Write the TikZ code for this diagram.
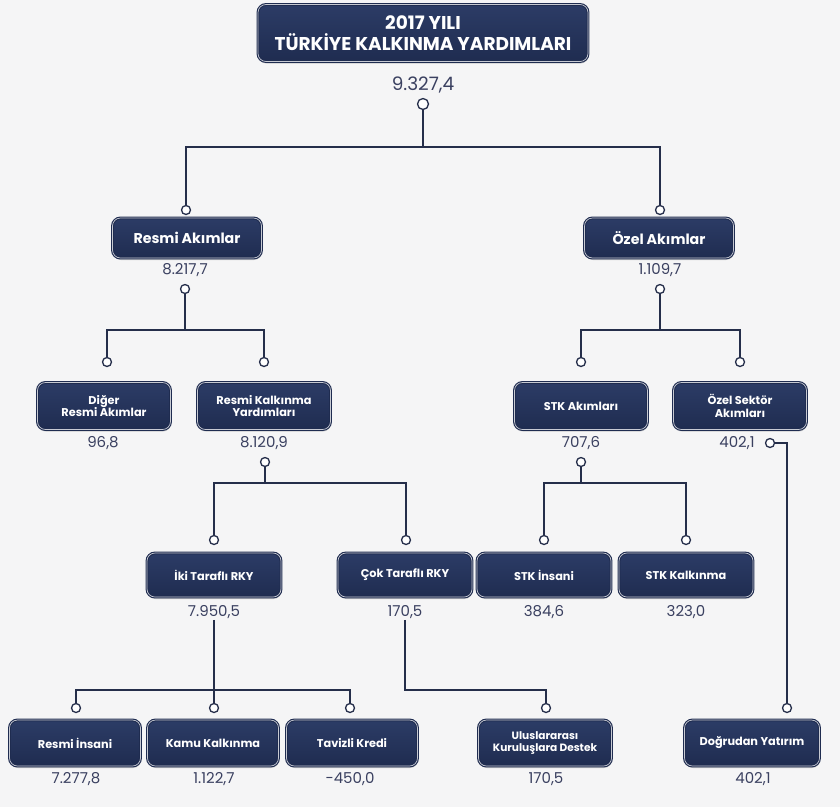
\documentclass[tikz,border=0pt]{standalone}
\usepackage{fontspec}
\setmainfont{Poppins}
\usetikzlibrary{shadows}
\definecolor{lacivert}{HTML}{1F2C50}
\definecolor{lacivertust}{HTML}{2C3C66}
\definecolor{hatrenk}{HTML}{252E4A}
\definecolor{degerrenk}{HTML}{3A4060}
\definecolor{zemin}{HTML}{F5F5F6}
\tikzset{
  kutu/.style={rectangle, rounded corners=8pt, draw=lacivert, double=white!75!lacivert,
    double distance=0.7pt, line width=1.1pt, top color=lacivertust, bottom color=lacivert,
    text=white, align=center, font=\bfseries\fontsize{11.3}{12.5}\selectfont,
    drop shadow={shadow xshift=0.5pt, shadow yshift=-2pt, opacity=0.35}},
  deger/.style={text=degerrenk, font=\fontsize{15}{16}\selectfont, inner sep=1pt},
  halka/.style={circle, draw=hatrenk, fill=white, line width=1.3pt, minimum size=9pt, inner sep=0pt},
  hat/.style={draw=hatrenk, line width=1.4pt}
}
\begin{document}
\begin{tikzpicture}[x=1pt,y=-1pt]
\fill[zemin] (0,0) rectangle (840,807);
% baslik
\node[kutu, minimum width=330, minimum height=57, font=\bfseries\fontsize{18.5}{21}\selectfont] (baslik) at (423,33) {2017 YILI\\TÜRKİYE KALKINMA YARDIMLARI};
\node[deger, font=\fontsize{18.5}{19}\selectfont] (v0) at (423,85) {9.327,4};
\node[halka, minimum size=11pt] (h0) at (423,104) {};
\coordinate (b0) at (423,147);
\node[halka] (hRA) at (186,210) {};
\node[halka] (hOA) at (660,210) {};
\draw[hat] (h0) -- (b0) -| (hRA);
\draw[hat] (b0) -| (hOA);
% resmi ve ozel akimlar
\node[kutu, minimum width=149, minimum height=40, font=\bfseries\fontsize{14.2}{15}\selectfont] (RA) at (187,238) {Resmi Akımlar};
\node[kutu, minimum width=149, minimum height=40, font=\bfseries\fontsize{14.2}{15}\selectfont] (OA) at (659,238) {Özel Akımlar};
\node[deger] (vRA) at (185,270) {8.217,7};
\node[deger] (vOA) at (660,270) {1.109,7};
\node[halka] (h1) at (185,289) {};
\node[halka] (h2) at (660,289) {};
\coordinate (b1) at (185,330);
\coordinate (b2) at (660,330);
\node[halka] (hDR) at (107,362) {};
\node[halka] (hRK) at (264,362) {};
\node[halka] (hSA) at (581,362) {};
\node[halka] (hOS) at (740,362) {};
\draw[hat] (h1) -- (b1) -| (hDR);
\draw[hat] (b1) -| (hRK);
\draw[hat] (h2) -- (b2) -| (hSA);
\draw[hat] (b2) -| (hOS);
% ikinci duzey
\node[kutu, minimum width=133, minimum height=47] (DR) at (104,406) {Diğer\\Resmi Akımlar};
\node[kutu, minimum width=133, minimum height=47] (RK) at (264,406) {Resmi Kalkınma\\Yardımları};
\node[kutu, minimum width=133, minimum height=47] (SA) at (581,406) {STK Akımları};
\node[kutu, minimum width=133, minimum height=47] (OS) at (740,406) {Özel Sektör\\Akımları};
\node[deger] (vDR) at (103,443) {96,8};
\node[deger] (vRK) at (264,443) {8.120,9};
\node[deger] (vSA) at (581,443) {707,6};
\node[deger] (vOS) at (737,443) {402,1};
\node[halka] (h3) at (265,462) {};
\node[halka] (h4) at (581,462) {};
\node[halka] (h5) at (770,443) {};
\coordinate (b3) at (265,483);
\coordinate (b4) at (581,483);
\node[halka] (hIT) at (214,540) {};
\node[halka] (hCT) at (406,540) {};
\node[halka] (hSI) at (544,540) {};
\node[halka] (hSK) at (686,540) {};
\node[halka] (hDY) at (787,708) {};
\draw[hat] (h3) -- (b3) -| (hIT);
\draw[hat] (b3) -| (hCT);
\draw[hat] (h4) -- (b4) -| (hSI);
\draw[hat] (b4) -| (hSK);
\draw[hat] (h5) -| (hDY);
% ucuncu duzey
\node[kutu, minimum width=134, minimum height=44] (IT) at (214,575) {İki Taraflı RKY};
\node[kutu, minimum width=134, minimum height=44] (CT) at (405,575) {Çok Taraflı RKY};
\node[kutu, minimum width=134, minimum height=44] (SI) at (544,575) {STK İnsani};
\node[kutu, minimum width=134, minimum height=44] (SK) at (686,575) {STK Kalkınma};
\node[deger] (vIT) at (214,612) {7.950,5};
\node[deger] (vCT) at (405,612) {170,5};
\node[deger] (vSI) at (544,612) {384,6};
\node[deger] (vSK) at (686,612) {323,0};
\coordinate (b5) at (214,690);
\coordinate (b6) at (405,690);
\node[halka] (hRI) at (76,708) {};
\node[halka] (hKK) at (214,708) {};
\node[halka] (hTK) at (350,708) {};
\node[halka] (hUK) at (546,708) {};
\draw[hat] (vIT) -- (b5) -| (hRI);
\draw[hat] (b5) -| (hTK);
\draw[hat] (b5) -- (hKK);
\draw[hat] (vCT) -- (b6) -| (hUK);
% dorduncu duzey
\node[kutu, minimum width=131, minimum height=46] (RI) at (75,743) {Resmi İnsani};
\node[kutu, minimum width=131, minimum height=46] (KK) at (213,743) {Kamu Kalkınma};
\node[kutu, minimum width=131, minimum height=46] (TK) at (352,743) {Tavizli Kredi};
\node[kutu, minimum width=133, minimum height=46, font=\bfseries\fontsize{10.6}{12}\selectfont] (UK) at (545,743) {Uluslararası\\Kuruluşlara Destek};
\node[kutu, minimum width=135, minimum height=46] (DY) at (752,743) {Doğrudan Yatırım};
\node[deger] (vRI) at (76,779) {7.277,8};
\node[deger] (vKK) at (214,779) {1.122,7};
\node[deger] (vTK) at (350,779) {-450,0};
\node[deger] (vUK) at (546,779) {170,5};
\node[deger] (vDY) at (753,779) {402,1};
\end{tikzpicture}
\end{document}
